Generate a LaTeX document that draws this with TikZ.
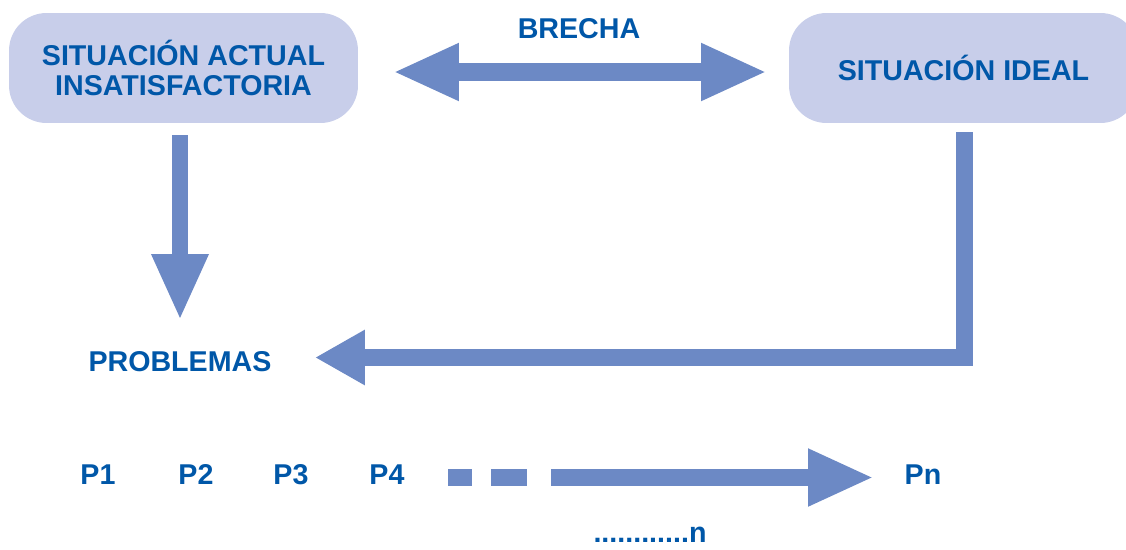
\documentclass[tikz,border=0pt]{standalone}
\usepackage{fontspec}
\setmainfont{Liberation Sans}
\usepackage{tikz}
\usetikzlibrary{positioning, arrows.meta}
\definecolor{txtblue}{RGB}{0,87,168}
\definecolor{arrblue}{RGB}{108,137,197}
\definecolor{boxfill}{RGB}{200,206,234}

\begin{document}
\begin{tikzpicture}[
  x=0.02cm, y=-0.02cm,
  lbl/.style={text=txtblue, font=\bfseries\fontsize{16.3}{17}\selectfont, inner sep=0pt},
  state/.style={lbl, rectangle, fill=boxfill, rounded corners=0.75cm, align=center, minimum width=6.98cm, minimum height=2.2cm},
  blk/.style={draw=arrblue, line width=0.34cm, -{Triangle[length=1.32cm, width=1.06cm]}},
  blkshort/.style={draw=arrblue, line width=0.34cm, line join=miter, -{Triangle[length=1.0cm, width=1.04cm]}},
  dashbar/.style={draw=arrblue, line width=0.34cm}
]
\clip (0,0) rectangle (1126,549);
\node[state] (actual) at (183.5,68) {SITUACIÓN ACTUAL\\INSATISFACTORIA};
\node[state] (ideal) at (963.5,68) {SITUACIÓN IDEAL};
\node[lbl] (brecha) at (579,29) {BRECHA};
\node[lbl] (problemas) at (180,362) {PROBLEMAS};
\node[lbl, anchor=base] (p1) at (98,484) {P1};
\node[lbl, anchor=base] (p2) at (196,484) {P2};
\node[lbl, anchor=base] (p3) at (291,484) {P3};
\node[lbl, anchor=base] (p4) at (387,484) {P4};
\node[lbl, anchor=base] (pn) at (923,484) {Pn};
\node[lbl, anchor=base] (enne) at (650,542) {............n};
% arrow ends
\coordinate (gapL) at (393,72);
\coordinate (gapR) at (767,72);
\coordinate (downA) at (180,135);
\coordinate (downB) at (180,320);
\coordinate (backA) at (964,132);
\coordinate (backB) at (315,357.5);
\coordinate (seqA) at (551,477.5);
\coordinate (seqB) at (874,477.5);
\coordinate (dashA) at (448,477.5);
\coordinate (dashB) at (472,477.5);
\coordinate (dashC) at (491,477.5);
\coordinate (dashD) at (527,477.5);
\draw[blk, {Triangle[length=1.32cm, width=1.06cm]}-{Triangle[length=1.32cm, width=1.06cm]}, line width=0.36cm] (gapL) -- (gapR);
\draw[blk, line width=0.31cm] (downA) -- (downB);
\draw[blkshort] (backA) |- (backB);
\draw[dashbar] (dashA) -- (dashB);
\draw[dashbar] (dashC) -- (dashD);
\draw[blk] (seqA) -- (seqB);
\end{tikzpicture}
\end{document}
